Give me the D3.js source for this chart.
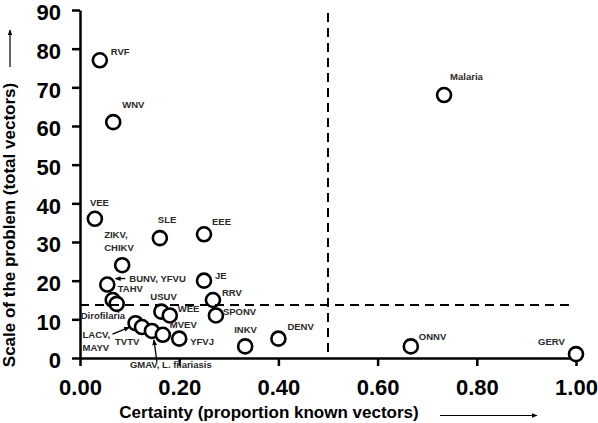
<!DOCTYPE html>
<html><head><meta charset="utf-8">
<script src="https://cdn.jsdelivr.net/npm/d3@7"></script>
<style>body{margin:0;background:#fff} svg{display:block;font-family:"Liberation Sans",Arial,sans-serif}</style>
</head><body><svg id="c" width="598" height="423"></svg>
<script>
// ---- data ----
const names = ["RVF","WNV","VEE","SLE","EEE","ZIKV,\nCHIKV","BUNV, YFVU","TAHV","Dirofilaria","USUV","WEE","JE","RRV","SPONV","LACV,\nMAYV","TVTV","GMAV, L. filariasis","MVEV","YFVJ","INKV","DENV","Malaria","ONNV","GERV"];
const certainty = [0.04,0.067,0.03,0.161,0.25,0.085,0.055,0.066,0.074,0.164,0.181,0.25,0.268,0.274,0.112,0.125,0.145,0.167,0.2,0.333,0.4,0.734,0.667,1.0];
const scaleTotal = [77,61,36,31,32,24,19,15,14,12,11,20,15,11,9,8,7,6,5,3,5,68,3,1];
const xTicks = [0,0.2,0.4,0.6,0.8,1.0];
const yTicks = [0,10,20,30,40,50,60,70,80,90];
const certaintyCut = 0.5;
const scaleCut = 13.7;
const xTitle = "Certainty (proportion known vectors)";
const yTitle = "Scale of the problem (total vectors)";

// ---- label layout (offsets from point centre, px) ----
const labelOffsets = [[11,-5],[9,-14],[-5,-13],[-2,-15],[8,-9],[-18,-27],[22,-3],[5,-8],[-36,15],[-11,-12],[8,-3],[11,-2],[9,-4],[7,0],[-53,15],[-27,17.5],[-22,37],[7,-7],[11,6],[-11,-13],[9,-9],[6,-15],[8,-6],[-38,-9]];
const pointerLines = {"BUNV, YFVU":[18,-6,8,-6],"LACV,\nMAYV":[-23,11,-6,4],"GMAV, L. filariasis":[5,31,2,9]};

const svg = d3.select("#c");
const x = d3.scaleLinear().domain([0,1]).range([80,576]);
const y = d3.scaleLinear().domain([0,90]).range([358,10]);

const defs = svg.append("defs");
defs.append("marker").attr("id","ah2").attr("viewBox","0 0 10 10").attr("refX",9).attr("refY",5)
  .attr("markerWidth",6).attr("markerHeight",6).attr("markerUnits","userSpaceOnUse").attr("orient","auto")
  .append("path").attr("d","M0,1L10,5L0,9z").attr("fill","#000");

// axes
const xAxis = d3.axisBottom(x).tickValues(xTicks).tickFormat(d3.format(".2f")).tickSize(8).tickSizeOuter(0).tickPadding(13);
const yAxis = d3.axisLeft(y).tickValues(yTicks).tickFormat(d3.format("d")).tickSize(8).tickSizeOuter(0).tickPadding(11);
const gx = svg.append("g").attr("transform","translate(0,358)").call(xAxis);
const gy = svg.append("g").attr("transform","translate(80,0)").call(yAxis);
[gx,gy].forEach(g=>{
  g.select(".domain").attr("stroke","#000").attr("stroke-width",2.5);
  g.selectAll(".tick line").attr("stroke","#000").attr("stroke-width",2.5);
  g.selectAll(".tick text").attr("fill","#000").style("font-size","22px").style("font-weight","bold")
   .style("font-family",'"Liberation Sans",Arial,sans-serif');
});
gy.selectAll(".tick text").attr("dy","0.45em");

// points
const pts = names.map((n,i)=>({name:n,cx:certainty[i],cy:scaleTotal[i],off:labelOffsets[i]}));
svg.append("g").selectAll("circle").data(pts).join("circle")
  .attr("cx",d=>x(d.cx)).attr("cy",d=>y(d.cy)).attr("r",7)
  .attr("fill","#fff").attr("stroke","#000").attr("stroke-width",2.6);

// threshold dashed lines
svg.append("line").attr("x1",x(certaintyCut)).attr("x2",x(certaintyCut)).attr("y1",y(89.2)).attr("y2",y(0))
  .attr("stroke","#000").attr("stroke-width",2).attr("stroke-dasharray","9,6");
svg.append("line").attr("x1",x(0)).attr("x2",x(0.99)).attr("y1",y(scaleCut)).attr("y2",y(scaleCut))
  .attr("stroke","#000").attr("stroke-width",2).attr("stroke-dasharray","9,6");

// labels
const lg = svg.append("g").style("font-size","9.5px").style("font-weight","bold").attr("fill","#2a2a2a");
pts.forEach(d=>{
  const px = x(d.cx), py = y(d.cy);
  const t = lg.append("text").attr("x",px+d.off[0]).attr("y",py+d.off[1]);
  d.name.split("\n").forEach((s,k)=>{
    t.append("tspan").attr("x",px+d.off[0]).attr("dy",k?12.4:0).text(s);
  });
  const pl = pointerLines[d.name];
  if(pl){
    svg.append("line").attr("x1",px+pl[0]).attr("y1",py+pl[1]).attr("x2",px+pl[2]).attr("y2",py+pl[3])
      .attr("stroke","#000").attr("stroke-width",1.3).attr("marker-end","url(#ah2)");
  }
});

// axis titles
svg.append("text").attr("x",269).attr("y",418).attr("text-anchor","middle")
  .style("font-size","17px").style("font-weight","bold").attr("fill","#000").text(xTitle);
svg.append("text").attr("transform","translate(15,225) rotate(-90)").attr("text-anchor","middle")
  .style("font-size","17px").style("font-weight","bold").attr("fill","#000").text(yTitle);
// title arrows
svg.append("line").attr("x1",440).attr("x2",537).attr("y1",415.5).attr("y2",415.5)
  .attr("stroke","#000").attr("stroke-width",1.2).attr("marker-end","url(#ah2)");
svg.append("line").attr("x1",10).attr("x2",10).attr("y1",67).attr("y2",30)
  .attr("stroke","#000").attr("stroke-width",1.2).attr("marker-end","url(#ah2)");
</script></body></html>
